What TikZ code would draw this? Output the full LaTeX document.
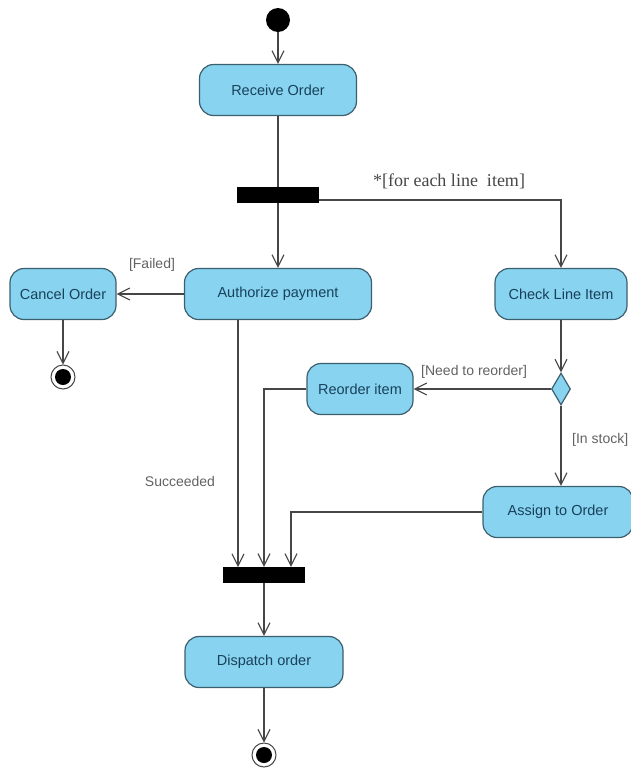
\documentclass[tikz,border=0pt]{standalone}
\usepackage{fontspec}
\setmainfont{Liberation Sans}
\newfontfamily\serifed{Liberation Serif}
\usetikzlibrary{arrows.meta,shapes.geometric}
\definecolor{actfill}{RGB}{135,211,240}
\definecolor{actline}{RGB}{60,95,110}
\definecolor{acttext}{RGB}{25,65,90}
\definecolor{linecol}{RGB}{70,70,70}
\tikzset{
  act/.style={draw=actline, fill=actfill, line width=1.2pt, rounded corners=14pt,
    minimum height=51pt, text=acttext, font=\fontsize{14.5}{16}\selectfont, inner sep=0pt},
  bar/.style={fill=black, draw=none, minimum width=82pt, minimum height=16pt, inner sep=0pt},
  flow/.style={draw=linecol, line width=1.1pt, -{Straight Barb[length=12pt,width=12pt,line width=1.1pt]}},
  plain/.style={draw=linecol, line width=1.1pt},
  lbl/.style={text=linecol!85, font=\fontsize{14}{16}\selectfont, inner sep=1pt},
  startnode/.style={circle, fill=black, minimum size=24pt, inner sep=0pt},
  endnode/.style={circle, draw=linecol, line width=1pt, fill=white, minimum size=24pt, inner sep=0pt,
    path picture={\fill[black] (path picture bounding box.center) circle (8pt);}},
  decision/.style={diamond, draw=actline, fill=actfill, line width=1.2pt, minimum width=19pt,
    minimum height=32pt, inner sep=0pt, aspect=0.6}
}
\begin{document}
\begin{tikzpicture}[x=1pt,y=-1pt]
\useasboundingbox (0,0) rectangle (631,769);
\node[startnode] (start) at (278,20) {};
\node[act, minimum width=157pt] (receive) at (278,90) {Receive Order};
\node[bar] (fork) at (278,195) {};
\node[act, minimum width=187pt] (auth) at (278,294) {Authorize payment};
\node[act, minimum width=106pt] (cancel) at (63,294) {Cancel Order};
\node[endnode] (end1) at (63,377) {};
\node[act, minimum width=132pt] (check) at (561,294) {Check Line Item};
\node[decision] (dec) at (561,389) {};
\node[act, minimum width=106pt] (reorder) at (360,389) {Reorder item};
\node[act, minimum width=150pt] (assign) at (558,512) {Assign to Order};
\node[bar] (join) at (264,575) {};
\node[act, minimum width=158pt] (dispatch) at (264,662) {Dispatch order};
\node[endnode] (end2) at (264,755) {};

\node[lbl] (lfailed) at (152,265) {[Failed]};
\node[text=linecol, font=\serifed\fontsize{18}{20}\selectfont] (lfor) at (449,181) {*[for each line\ \ item]};
\node[lbl, anchor=west] (lneed) at (420,372) {[Need to reorder]};
\node[lbl, anchor=west] (lstock) at (571,440) {[In stock]};
\node[lbl] (lsucc) at (180,481) {Succeeded};

\coordinate (forkR) at (fork.east);
\coordinate (c1) at (561,200);
\coordinate (c2) at (264,389);
\coordinate (c3) at (291,512);

\draw[flow] (start) -- (receive);
\draw[plain] (receive) -- (fork);
\draw[flow] (fork) -- (auth);
\draw[flow] (auth) -- (cancel);
\draw[flow] (cancel) -- (end1);
\draw[flow] (forkR |- c1) -- (c1) -- (check.north);
\draw[flow] (check) -- (dec);
\draw[flow] (dec) -- (reorder);
\draw[flow] (dec.south) -- (dec.south |- assign.north);
\draw[flow] (auth.south -| 238,0) -- (238,567);
\draw[flow] (reorder.west) -- (c2) -- (c2 |- join.north);
\draw[flow] (assign.west) -- (c3) -- (c3 |- join.north);
\draw[flow] (join) -- (dispatch);
\draw[flow] (dispatch) -- (end2);
\end{tikzpicture}
\end{document}
